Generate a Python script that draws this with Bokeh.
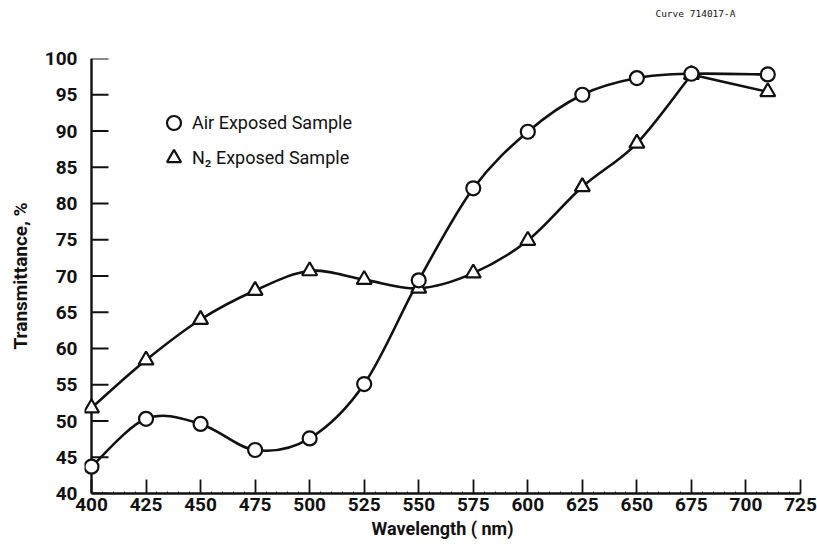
import numpy as np
from bokeh.plotting import figure
from bokeh.models import Range1d, FixedTicker, Legend, LegendItem, Title, ColumnDataSource
from bokeh.embed import file_html
from bokeh.resources import INLINE

# ---- data ----
wavelength = [400, 425, 450, 475, 500, 525, 550, 575, 600, 625, 650, 675, 710]
air_exposed = [43.7, 50.3, 49.6, 46.0, 47.6, 55.1, 69.4, 82.1, 89.9, 95.0, 97.3, 97.9, 97.8]
n2_exposed = [51.8, 58.4, 64.0, 68.0, 70.7, 69.5, 68.3, 70.4, 74.9, 82.3, 88.3, 97.8, 95.4]
n2_corner = 675          # the N2 curve turns sharply at this wavelength
x_ticks = [400, 425, 450, 475, 500, 525, 550, 575, 600, 625, 650, 675, 700, 725]
y_ticks = [40, 45, 50, 55, 60, 65, 70, 75, 80, 85, 90, 95, 100]
x_title = "Wavelength ( nm)"
y_title = "Transmittance, %"
legend_air = "Air Exposed Sample"
legend_n2 = "N\u2082 Exposed Sample"
curve_id = "Curve 714017-A"

FONT = "Roboto"
INK = "#111111"


def catmull_rom_beziers(xs, ys):
    """Control points of a smooth curve through the points (Catmull-Rom as cubic Beziers)."""
    xs = np.asarray(xs, float)
    ys = np.asarray(ys, float)
    n = len(xs)
    px = np.concatenate([[xs[0]], xs, [xs[-1]]])
    py = np.concatenate([[ys[0]], ys, [ys[-1]]])
    d = dict(x0=[], y0=[], x1=[], y1=[], cx0=[], cy0=[], cx1=[], cy1=[])
    for i in range(n - 1):
        p0x, p0y = px[i], py[i]
        p1x, p1y = px[i + 1], py[i + 1]
        p2x, p2y = px[i + 2], py[i + 2]
        p3x, p3y = px[i + 3], py[i + 3]
        d["x0"].append(p1x); d["y0"].append(p1y)
        d["x1"].append(p2x); d["y1"].append(p2y)
        d["cx0"].append(p1x + (p2x - p0x) / 6.0); d["cy0"].append(p1y + (p2y - p0y) / 6.0)
        d["cx1"].append(p2x - (p3x - p1x) / 6.0); d["cy1"].append(p2y - (p3y - p1y) / 6.0)
    return d


def merge(*ds):
    out = {k: [] for k in ds[0]}
    for d in ds:
        for k in d:
            out[k] += d[k]
    return ColumnDataSource(out)


# frame geometry: x=400 sits 7 px inside the frame so edge markers are not clipped
border_left, border_right, border_top = 84, 17, 58
frame_w = 817 - border_left - border_right
span = x_ticks[-1] - x_ticks[0]
pad = 7 * span / (frame_w - 7)
x_start = x_ticks[0] - pad

p = figure(width=817, height=544, output_backend="svg", toolbar_location=None,
           x_range=Range1d(x_start, x_ticks[-1]), y_range=Range1d(y_ticks[0], y_ticks[-1]),
           min_border_left=border_left, min_border_right=border_right,
           min_border_top=border_top, min_border_bottom=51)
p.outline_line_color = None
p.grid.visible = False
p.background_fill_color = "white"
p.border_fill_color = "white"

# axes (labels from Bokeh's axes; y spine and its ticks drawn at x = 400)
p.xaxis.ticker = FixedTicker(ticks=x_ticks, minor_ticks=list(np.arange(400, 726, 5)))
p.yaxis.ticker = FixedTicker(ticks=y_ticks)
p.xaxis.bounds = (x_ticks[0], x_ticks[-1])
for ax in (p.xaxis, p.yaxis):
    ax.major_tick_out = 0
    ax.minor_tick_out = 0
    ax.major_label_text_font = FONT
    ax.major_label_text_font_style = "bold"
    ax.major_label_text_font_size = "19px"
    ax.major_label_text_color = INK
    ax.axis_label_text_font = FONT
    ax.axis_label_text_font_style = "bold"
    ax.axis_label_text_color = INK
p.xaxis.axis_label_text_font_size = "18px"
p.yaxis.axis_label_text_font_size = "19px"
p.xaxis.axis_line_color = INK
p.xaxis.axis_line_width = 2.4
p.xaxis.major_tick_line_color = INK
p.xaxis.major_tick_line_width = 1.8
p.xaxis.minor_tick_line_color = INK
p.xaxis.minor_tick_line_width = 1
p.xaxis.minor_tick_in = 2
p.xaxis.major_tick_in = 14
p.yaxis.axis_line_color = None
p.yaxis.major_tick_line_color = None
p.yaxis.minor_tick_line_color = None
p.xaxis.major_label_standoff = 4
p.yaxis.major_label_standoff = 7
p.xaxis.axis_label = x_title
p.yaxis.axis_label = y_title
p.xaxis.axis_label_standoff = 4
p.yaxis.axis_label_standoff = 10

p.line([x_ticks[0], x_ticks[0]], [y_ticks[0], y_ticks[-1]], line_color=INK, line_width=2.4)
p.ray(x=[x_ticks[0]] * len(y_ticks), y=y_ticks, length=17, length_units="screen", angle=0,
      line_color=INK, line_width=1.8)

# curves
ci = wavelength.index(n2_corner)
for src in (merge(catmull_rom_beziers(wavelength, air_exposed)),
            merge(catmull_rom_beziers(wavelength[:ci + 1], n2_exposed[:ci + 1]),
                  catmull_rom_beziers(wavelength[ci:], n2_exposed[ci:]))):
    p.bezier(x0="x0", y0="y0", x1="x1", y1="y1", cx0="cx0", cy0="cy0", cx1="cx1", cy1="cy1",
             source=src, line_color=INK, line_width=2.6)

r_n2 = p.scatter(wavelength, n2_exposed, marker="triangle", size=15, fill_color="white",
                 line_color=INK, line_width=2.2)
r_air = p.scatter(wavelength, air_exposed, marker="circle", size=14, fill_color="white",
                  line_color=INK, line_width=2.2)

legend = Legend(items=[LegendItem(label=legend_air, renderers=[r_air]),
                       LegendItem(label=legend_n2, renderers=[r_n2])],
                location=(72, 318), orientation="vertical",
                border_line_color=None, background_fill_alpha=0,
                padding=0, margin=0, spacing=0,
                glyph_width=35, glyph_height=35, label_height=35, label_standoff=1,
                label_text_font=FONT, label_text_font_size="18px", label_text_color=INK)
p.add_layout(legend)

# drawing number high in the top margin (blank trailing lines lift it above the frame)
p.add_layout(Title(text=curve_id + "\n\n\n", align="right", offset=65, standoff=0,
                   text_font="DejaVu Sans Mono", text_font_size="9.5px", text_line_height=1.2,
                   text_font_style="normal", text_color=INK), "above")

open("out.html", "w").write(file_html(p, INLINE))
